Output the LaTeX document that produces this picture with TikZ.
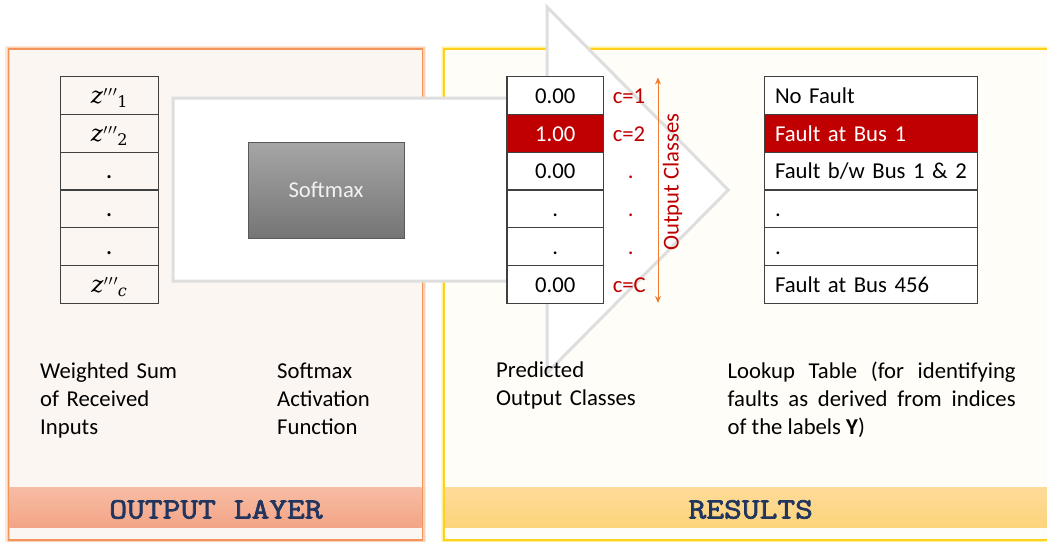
\documentclass[tikz,border=0pt]{standalone}
\usepackage{fontspec}
\setmainfont{Carlito}
\newfontfamily\titlefont{Latin Modern Mono}[AutoFakeBold=2.2]
\newfontfamily\symfont{DejaVu Serif}
\usetikzlibrary{arrows.meta}

\definecolor{leftbg}{HTML}{FCF6F2}
\definecolor{rightbg}{HTML}{FFFDF8}
\definecolor{leftedge}{HTML}{F2955A}
\definecolor{leftglow}{HTML}{F9BE96}
\definecolor{rightedge}{HTML}{FFD11A}
\definecolor{rightglow}{HTML}{FFEB70}
\definecolor{bandAtop}{HTML}{F6BDA4}
\definecolor{bandAbot}{HTML}{F4A486}
\definecolor{bandBtop}{HTML}{FEDB9A}
\definecolor{bandBbot}{HTML}{FCD47A}
\definecolor{titleblue}{HTML}{22355E}
\definecolor{cellgray}{HTML}{404040}
\definecolor{hotred}{HTML}{C00000}
\definecolor{ocorange}{HTML}{ED7D31}

% wide slab-serif heading text
\newcommand{\bandtitle}[1]{\scalebox{1.17}[1]{\titlefont\bfseries\fontsize{29.5}{34}\selectfont #1}}
% triple-primed z with an index set after the primes
\newcommand{\zsum}[1]{{\symfont\fontsize{23}{26}\selectfont\itshape z}\kern0.5pt%
  \raisebox{7pt}{\fontsize{14.5}{16}\selectfont$\prime\kern0.8pt\prime\kern0.8pt\prime$}\kern0.5pt%
  \raisebox{-4pt}{\symfont\fontsize{16}{18}\selectfont #1}}

\begin{document}
\begin{tikzpicture}[x=1pt,y=-1pt,
  txt/.style={font=\fontsize{22.7}{28}\selectfont, inner sep=0pt},
  title/.style={text=titleblue, inner sep=0pt, anchor=base},
  cell/.style={draw=cellgray, line width=1.1pt, minimum height=37.8pt,
    inner sep=0pt, text height=19pt, text depth=3.4pt,
    font=\fontsize{22.7}{28}\selectfont},
  zcell/.style={cell, minimum width=97.9pt, fill=leftbg,
    font=\fontsize{26}{28}\selectfont},
  pcell/.style={cell, minimum width=96.7pt, fill=white},
  fcell/.style={cell, text width=192pt, inner xsep=10.7pt, align=left, fill=white},
  hot/.style={fill=hotred, text=white},
  lbl/.style={font=\fontsize{22.7}{28}\selectfont, text=hotred, inner sep=0pt,
    text height=19pt, text depth=3.4pt},
  glowA/.style={draw=leftglow, line width=7pt, draw opacity=0.35},
  glowB/.style={draw=leftglow, line width=4pt, draw opacity=0.55},
  glowC/.style={draw=rightglow, line width=7pt, draw opacity=0.35},
  glowD/.style={draw=rightglow, line width=4pt, draw opacity=0.55},
]
\useasboundingbox (0,0) rectangle (1047,541);

% ---- panel backgrounds with glowing frames ----
\path[fill=leftbg] (8.5,49) rectangle (422.5,540);
\path[fill=rightbg] (444,49) rectangle (1052,540);
\draw[glowA] (8.5,49) rectangle (422.5,540);
\draw[glowB] (8.5,49) rectangle (422.5,540);
\draw[glowC] (444,49) rectangle (1052,540);
\draw[glowD] (444,49) rectangle (1052,540);
\fill[leftbg] (9.5,50) rectangle (421.5,539);
\fill[rightbg] (445,50) rectangle (1052,539);
\draw[draw=leftedge, line width=1.6pt] (8.5,49) rectangle (422.5,540);
\draw[draw=rightedge, line width=1.6pt] (444,49) rectangle (1052,540);

% ---- title bands ----
\shade[top color=bandAtop, bottom color=bandAbot] (9.3,487) rectangle (421.7,527.5);
\shade[top color=bandBtop, bottom color=bandBbot] (444.8,487) rectangle (1047,527.5);
\node[title] (ttlA) at (216,518.5) {\bandtitle{OUTPUT LAYER}};
\node[title] (ttlB) at (750.7,518.5) {\bandtitle{RESULTS}};

% ---- big flow arrow ----
\draw[draw=black!13, line width=3pt, fill=white, line join=miter]
  (173,98) -- (547,98) -- (547,7) -- (728.3,190) -- (547,373)
  -- (547,281) -- (173,281) -- cycle;

% ---- softmax block ----
\node[draw=black!65, line width=1pt, top color=black!35, bottom color=black!54,
  minimum width=156pt, minimum height=96pt, inner sep=0pt,
  font=\fontsize{22.7}{28}\selectfont, text=black!5] (soft) at (326,190) {Softmax};

% ---- weighted sums ----
\node[zcell] (z1) at (109.15,95.59)  {\zsum{1}};
\node[zcell] (z2) at (109.15,133.37) {\zsum{2}};
\node[zcell] (z3) at (109.15,171.15) {.};
\node[zcell] (z4) at (109.15,208.93) {.};
\node[zcell] (z5) at (109.15,246.71) {.};
\node[zcell] (z6) at (109.15,284.49) {\zsum{\itshape c}};

% ---- predicted probabilities ----
\node[pcell] (p1) at (555.35,95.59)  {0.00};
\node[pcell, hot] (p2) at (555.35,133.37) {1.00};
\node[pcell] (p3) at (555.35,171.15) {0.00};
\node[pcell] (p4) at (555.35,208.93) {.};
\node[pcell] (p5) at (555.35,246.71) {.};
\node[pcell] (p6) at (555.35,284.49) {0.00};

% ---- class indices ----
\node[lbl, anchor=west] (c1) at ([xshift=8.3pt]p1.east) {c=1};
\node[lbl, anchor=west] (c2) at ([xshift=8.3pt]p2.east) {c=2};
\node[lbl] (c3) at ([xshift=26.5pt]p3.east) {.};
\node[lbl] (c4) at ([xshift=26.5pt]p4.east) {.};
\node[lbl] (c5) at ([xshift=26.5pt]p5.east) {.};
\node[lbl, anchor=west] (c6) at ([xshift=8.3pt]p6.east) {c=C};

\coordinate (ocTop) at (658,77.5);
\coordinate (ocBot) at (658,303);
\draw[ocorange, line width=1pt, {Stealth[length=7pt,width=6pt]}-{Stealth[length=7pt,width=6pt]}]
  (ocTop) -- (ocBot);
\node[font=\fontsize{22.7}{28}\selectfont, text=hotred, inner sep=0pt,
  rotate=90, anchor=base] (oclbl) at (678.7,182) {Output Classes};

% ---- fault lookup table ----
\node[fcell] (f1) at (871,95.59)  {No Fault};
\node[fcell, hot] (f2) at (871,133.37) {Fault at Bus 1};
\node[fcell] (f3) at (871,171.15) {Fault b/w Bus 1 \& 2};
\node[fcell] (f4) at (871,208.93) {.};
\node[fcell] (f5) at (871,246.71) {.};
\node[fcell] (f6) at (871,284.49) {Fault at Bus 456};

% ---- captions ----
\node[txt, text width=150pt, align=left, anchor=base west] (capA) at (40,378)
  {Weighted Sum\\of Received\\Inputs};
\node[txt, text width=130pt, align=left, anchor=base west] (capB) at (277,378)
  {Softmax\\Activation\\Function};
\node[txt, text width=180pt, align=left, anchor=base west] (capC) at (496,377)
  {Predicted\\Output Classes};
\node[txt, text width=288pt, align=justify, anchor=base west] (capD) at (727.5,378)
  {\hyphenpenalty=10000 Lookup Table (for identifying\linebreak
   faults as derived from indices\linebreak of the labels \textbf{Y})};
\end{tikzpicture}
\end{document}
